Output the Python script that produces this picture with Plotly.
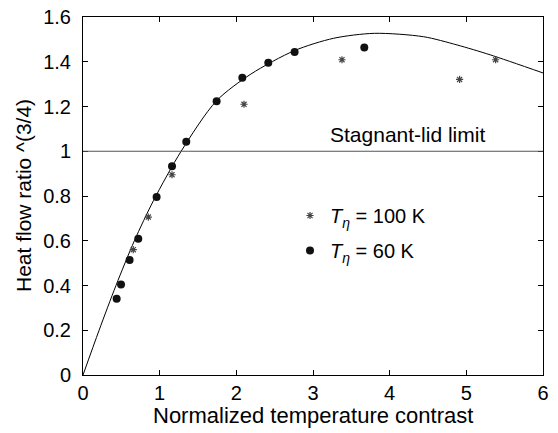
import plotly.graph_objects as go

# Fitted curve
curve_x = [0, 0.21, 0.43, 0.67, 0.92, 1.28, 1.74, 2.19, 2.76, 3.27, 3.80, 4.44, 4.88, 5.31, 6.0]
curve_y = [0, 0.20, 0.40, 0.60, 0.78, 1.00, 1.225, 1.345, 1.45, 1.505, 1.527, 1.512, 1.475, 1.431, 1.35]

# T_eta = 100 K (asterisks)
t100_x = [0.656, 0.852, 1.161, 2.10, 3.378, 4.912, 5.382]
t100_y = [0.560, 0.706, 0.895, 1.210, 1.409, 1.321, 1.409]

# T_eta = 60 K (dots)
t60_x = [0.439, 0.496, 0.608, 0.721, 0.960, 1.161, 1.347, 1.743, 2.078, 2.417, 2.760, 3.669]
t60_y = [0.341, 0.404, 0.514, 0.609, 0.795, 0.933, 1.042, 1.223, 1.328, 1.396, 1.444, 1.464]

x_ticks = [0, 1, 2, 3, 4, 5, 6]
y_ticks = [0, 0.2, 0.4, 0.6, 0.8, 1, 1.2, 1.4, 1.6]
y_tick_labels = ["0", "0.2", "0.4", "0.6", "0.8", "1", "1.2", "1.4", "1.6"]

FONT = "Liberation Sans, Arial, Helvetica, sans-serif"

fig = go.Figure()

fig.add_trace(go.Scatter(
    x=curve_x, y=curve_y, mode="lines",
    line=dict(color="black", width=1, shape="spline", smoothing=0.8),
    showlegend=False, hoverinfo="skip"))

fig.add_trace(go.Scatter(
    x=t100_x, y=t100_y, mode="markers", legendgroup="a",
    marker=dict(symbol="asterisk-open", size=6, color="#444444",
                line=dict(color="#444444", width=1.2)),
    name="<i>T</i><sub><i>η</i></sub> = 100 K"))

fig.add_trace(go.Scatter(
    x=t60_x, y=t60_y, mode="markers", legendgroup="b",
    marker=dict(symbol="circle", size=8, color="#111111"),
    name="<i>T</i><sub><i>η</i></sub> = 60 K"))

fig.add_shape(type="line", xref="x", yref="y", x0=0, x1=6, y0=1, y1=1,
              line=dict(color="#555555", width=1.2))

fig.add_annotation(x=4.23, y=1.076, xref="x", yref="y", text="Stagnant-lid limit",
                   showarrow=False, font=dict(family=FONT, size=21, color="black"))

# axis titles as annotations for precise placement
fig.add_annotation(x=0.5, y=0, xref="paper", yref="paper", yanchor="middle",
                   yshift=-40, text="Normalized temperature contrast", showarrow=False,
                   font=dict(family=FONT, size=22, color="black"))
fig.add_annotation(x=0, y=0.5, xref="paper", yref="paper", xanchor="center",
                   xshift=-60, textangle=-90, text="Heat flow ratio ^(3/4)", showarrow=False,
                   font=dict(family=FONT, size=21, color="black"))

axis_common = dict(
    showline=True, linecolor="black", linewidth=1, mirror="ticks",
    ticks="inside", ticklen=5, tickwidth=1, tickcolor="black",
    showgrid=False, zeroline=False, automargin=False,
    ticklabeloverflow="allow",
    tickfont=dict(family=FONT, size=20, color="black"),
)

fig.update_xaxes(range=[0, 6], tickvals=x_ticks, ticklabelstandoff=0, **axis_common)
fig.update_yaxes(range=[0, 1.6], tickvals=y_ticks, ticktext=y_tick_labels,
                 ticklabelstandoff=7, **axis_common)

# page body has an 8px margin, so the figure is sized/margined to land in the window
fig.update_layout(
    width=550, height=425,
    margin=dict(l=75, r=15, t=9, b=58, autoexpand=False),
    paper_bgcolor="white", plot_bgcolor="white",
    font=dict(family=FONT, size=20, color="black"),
    legend=dict(x=0.45, y=0.5, xanchor="left", yanchor="top",
                bgcolor="rgba(0,0,0,0)", borderwidth=0,
                font=dict(family=FONT, size=20, color="black"),
                itemwidth=30, tracegroupgap=6),
)

fig.write_html("out.html")
